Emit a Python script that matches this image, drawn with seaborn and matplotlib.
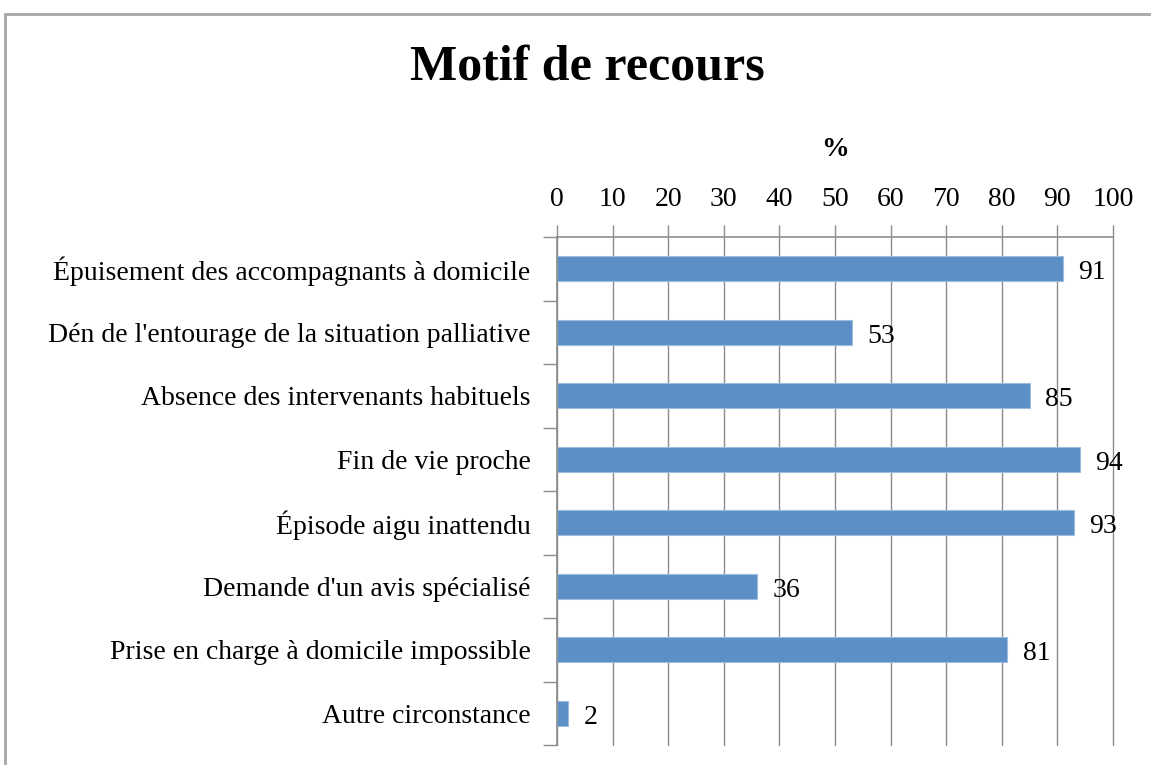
import matplotlib
matplotlib.use("Agg")
import matplotlib.pyplot as plt
import seaborn as sns
import pandas as pd
import numpy as np
from matplotlib.patches import Rectangle

categories = [
    "Épuisement des accompagnants à domicile",
    "Dén de l'entourage de la situation palliative",
    "Absence des intervenants habituels",
    "Fin de vie proche",
    "Épisode aigu inattendu",
    "Demande d'un avis spécialisé",
    "Prise en charge à domicile impossible",
    "Autre circonstance",
]
values = [91, 53, 85, 94, 93, 36, 81, 2]
x_ticks = [0, 10, 20, 30, 40, 50, 60, 70, 80, 90, 100]

sns.set_theme(style="white")
plt.rcParams['font.family'] = ['Liberation Serif', 'DejaVu Serif']
plt.rcParams['text.color'] = 'black'
plt.rcParams['xtick.color'] = 'black'
plt.rcParams['ytick.color'] = 'black'
plt.rcParams['axes.labelcolor'] = 'black'

df = pd.DataFrame({"cat": categories, "val": values})

fig = plt.figure(figsize=(11.51, 7.65), dpi=100)
ax = fig.add_axes([557/1151, 1-745/765, (1113-557)/1151, (745-237)/765])

sns.barplot(data=df, x="val", y="cat", orient="h", color="#5B8FC6",
            width=0.39, edgecolor="#9DBDE0", linewidth=0.8, saturation=1, ax=ax)

ax.set_xlim(0, 100)
ax.set_ylim(len(categories)-0.5, -0.5)
ax.xaxis.tick_top()
ax.xaxis.set_label_position("top")
ax.set_xticks(x_ticks)
ax.set_xticklabels([str(t) for t in x_ticks], fontsize=20)
ax.grid(axis="x", color="#8c8c8c", linewidth=1.0)
for gl in ax.get_xgridlines():
    gl.set_clip_on(False)
ax.set_axisbelow(True)
ax.tick_params(axis="x", which="major", direction="out", length=9, width=1,
               color="#8c8c8c", labelcolor="black", pad=9, top=True, bottom=False)
ax.set_xlabel("%", fontsize=20, fontweight="bold", labelpad=22)
ax.set_ylabel("")
ax.set_yticks(range(len(categories)))
ax.set_yticklabels(categories, fontsize=20)
ax.set_yticks(np.arange(-0.5, len(categories)), minor=True)
ax.tick_params(axis="y", which="major", length=0, pad=19, labelcolor="black")
ax.tick_params(axis="y", which="minor", direction="out", length=10, width=1,
               color="#8c8c8c", left=True)

for s in ["right", "bottom"]:
    ax.spines[s].set_visible(False)
for s in ["left", "top"]:
    ax.spines[s].set_color("#8c8c8c")
    ax.spines[s].set_linewidth(1.2)

for i, v in enumerate(values):
    ax.annotate(str(v), xy=(v, i), xytext=(11, -3), textcoords="offset points",
                ha="left", va="center", fontsize=20, color="black")

fig.text(587/1151, 1-68/765, "Motif de recours", ha="center", va="center",
         fontsize=36, fontweight="bold", color="black")

fig.add_artist(Rectangle((5/1151, -0.05), 1.1, 1-14/765+0.05,
                         transform=fig.transFigure, fill=False,
                         edgecolor="#a6a6a6", linewidth=2, clip_on=False))

fig.savefig("out.png", dpi=100)
